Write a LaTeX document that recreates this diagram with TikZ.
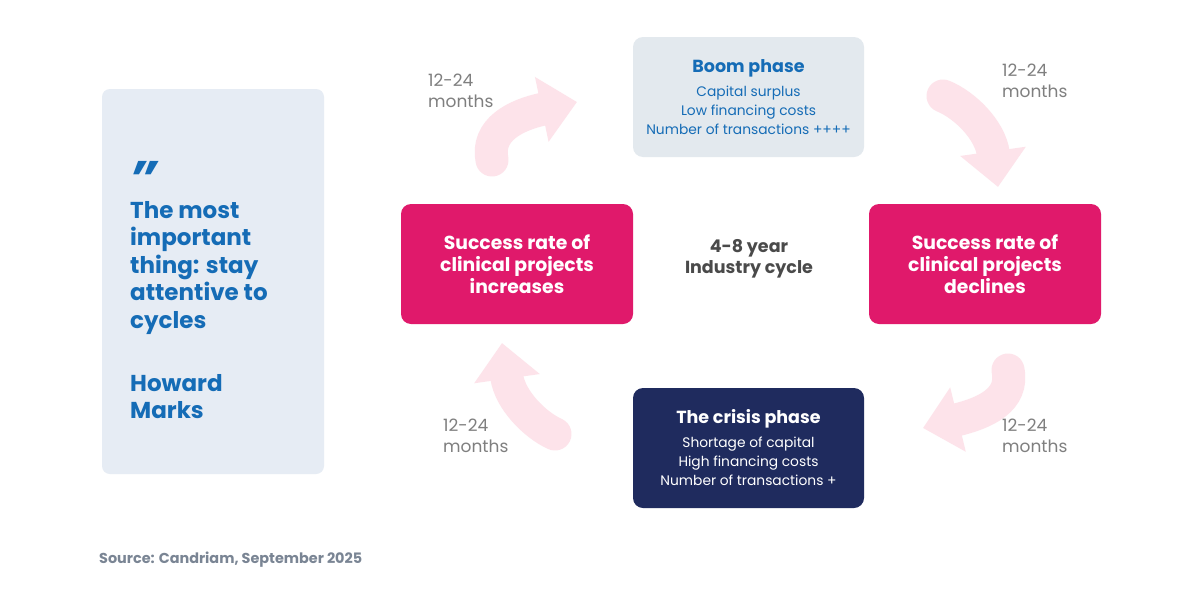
\documentclass[tikz,border=0pt]{standalone}
\usepackage{fontspec}
\setmainfont{Poppins}
\usetikzlibrary{arrows.meta}
\definecolor{pinkbox}{HTML}{E0196B}
\definecolor{navybox}{HTML}{1F2B5E}
\definecolor{boomfill}{HTML}{E3E9EE}
\definecolor{quotefill}{HTML}{E6ECF4}
\definecolor{blueText}{HTML}{156CB6}
\definecolor{arrowpink}{HTML}{FDE3EA}
\definecolor{monthgray}{HTML}{7F7F7F}
\definecolor{centergray}{HTML}{4A4A4A}
\definecolor{sourcegray}{HTML}{7A8594}
\newcommand{\phtitle}{\fontsize{17.5}{20}\selectfont\bfseries}
\tikzset{
  phasebox/.style={rounded corners=10pt, inner sep=0pt, minimum width=231pt, minimum height=120pt, align=center, font=\fontsize{13.8}{19}\selectfont},
  ratebox/.style={rounded corners=10pt, inner sep=0pt, minimum width=232pt, minimum height=120pt, align=center, fill=pinkbox, text=white, font=\fontsize{18.8}{22}\selectfont\bfseries},
  months/.style={align=left, anchor=west, inner sep=0pt, text=monthgray, font=\fontsize{17}{21}\selectfont},
  cyclearrow/.style={arrowpink, line width=33pt, line cap=round, -{Triangle[length=36pt, width=64pt]}},
  quotetext/.style={anchor=north west, inner sep=0pt, align=left, text=blueText, font=\fontsize{23}{27.5}\selectfont\bfseries},
}
\begin{document}
\begin{tikzpicture}[x=1pt,y=-1pt]
\useasboundingbox (0,0) rectangle (1200,600);
\fill[white] (0,0) rectangle (1200,600);

% arrows
\coordinate (tlS) at (492,160);
\coordinate (tlE) at (577,102);
\draw[cyclearrow] (tlS) .. controls (486,130) and (515,115) .. (tlE);
\coordinate (trS) at (943,96);
\coordinate (trE) at (998,187);
\draw[cyclearrow] (trS) .. controls (965,105) and (990,130) .. (trE);
\coordinate (brS) at (1008,370);
\coordinate (brE) at (923,428);
\draw[cyclearrow] (brS) .. controls (1014,400) and (985,413) .. (brE);
\coordinate (blS) at (555,434);
\coordinate (blE) at (502,343);
\draw[cyclearrow] (blS) .. controls (535,425) and (510,400) .. (blE);

% quote box
\node[rounded corners=8pt, fill=quotefill, minimum width=222pt, minimum height=385pt, inner sep=0pt] (quote) at (213,281.5) {};
\node[anchor=north west, inner sep=0pt, text height=16pt, text depth=0pt, text=blueText, font=\fontsize{50}{50}\selectfont\bfseries\itshape] (qmark) at (129,161) {\raisebox{-19pt}{"}};
\node[quotetext] (qtext) at (130,201) {The most\\important\\thing: stay\\attentive to\\cycles};
\node[quotetext] (author) at (130,374) {Howard\\Marks};

% phase boxes
\node[phasebox, fill=boomfill, text=blueText] (boom) at (748.5,97) {{\phtitle Boom phase}\\[5pt]Capital surplus\\Low financing costs\\Number of transactions ++++};
\node[phasebox, fill=navybox, text=white] (crisis) at (748.5,448) {{\phtitle The crisis phase}\\[5pt]Shortage of capital\\High financing costs\\Number of transactions +};

% rate boxes
\node[ratebox] (inc) at (517,264) {Success rate of\\clinical projects\\increases};
\node[ratebox] (dec) at (985,264) {Success rate of\\clinical projects\\declines};

% center
\node[align=center, inner sep=0pt, text=centergray, font=\fontsize{17.5}{21}\selectfont\bfseries] (center) at (749,259) {4-8 year\\Industry cycle};

% month labels
\node[months] (m1) at (428,91) {12-24\\months};
\node[months] (m2) at (1002,80.5) {12-24\\months};
\node[months] (m3) at (1002,436) {12-24\\months};
\node[months] (m4) at (443,436) {12-24\\months};

% source
\node[anchor=west, inner sep=0pt, text=sourcegray, font=\fontsize{14.4}{16}\selectfont\bfseries] (source) at (99,560) {Source: Candriam, September 2025};
\end{tikzpicture}
\end{document}
